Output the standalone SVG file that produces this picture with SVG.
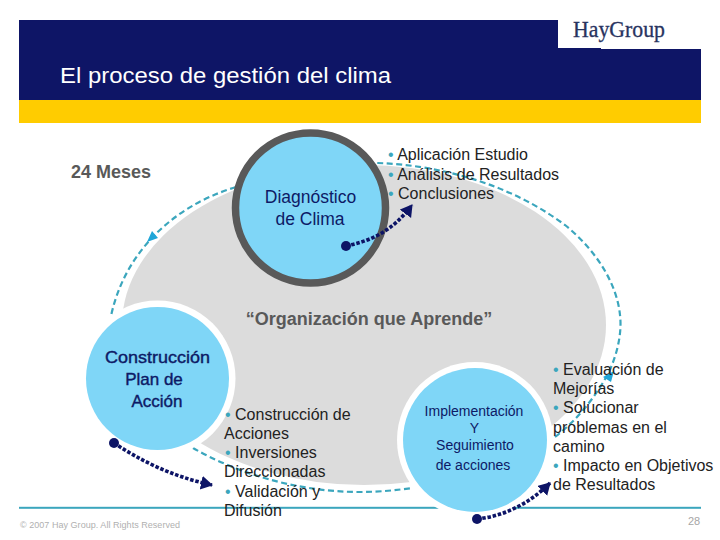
<svg xmlns="http://www.w3.org/2000/svg" width="720" height="540" viewBox="0 0 720 540">
<style>
text{font-family:"Liberation Sans",Arial,sans-serif}
.mid{text-anchor:middle}
.nv{fill:#0d1a66}
.bd{font-weight:bold;font-size:16.500px}
.b{font-size:16px;fill:#222}
.dot{fill:#3ba6bd}
.gh{font-weight:bold;fill:#595959;font-size:18px}
.teal{fill:none;stroke:#3ba6bd;stroke-width:2.2;stroke-dasharray:6 3.5}
.navy{fill:none;stroke:#0d1466;stroke-width:3.6;stroke-dasharray:3.5 1.8}
</style>
<defs>
<marker id="na" markerUnits="userSpaceOnUse" markerWidth="16" markerHeight="16" refX="11" refY="7" orient="auto"><path d="M0 0L12 7L0 14Z" fill="#0d1466"/></marker>
</defs>
<rect width="720" height="540" fill="#fff"/>
<g id="header">
<rect x="19" y="20" width="682" height="80" fill="#0e1566"/>
<rect x="19" y="100" width="682" height="23" fill="#ffcc00"/>
<path d="M558 20H701V49H601V48H558Z" fill="#fff"/>
<text x="573" y="37" font-size="23" textLength="92" lengthAdjust="spacingAndGlyphs" style="font-family:'Liberation Serif',serif" fill="#28335f" stroke="#28335f" stroke-width=".3">HayGroup</text>
<text x="60" y="83" font-size="22" fill="#fff" textLength="331" lengthAdjust="spacingAndGlyphs">El proceso de gestión del clima</text>
</g>
<g id="background">
<ellipse cx="364" cy="325" rx="242" ry="160" fill="#dcdcdc"/>
<rect x="19" y="506.800" width="682" height="2" fill="#3ba6bd"/>
</g>
<g id="connectors">
<path class="teal" d="M236 187C200 198 172 216 150 240C130 262 117 288 111 316"/>
<path class="teal" d="M555 437C577 420 595 398 609 372C618 352 622 332 620 315C617 285 598 252 565 225C510 184 440 165 377 163"/>
<path class="teal" d="M193 448C235 472 295 492 360 492C380 492 398 490 412 488"/>
<path d="M158 238L147 242L152 231Z" fill="#1fa6d8"/>
<path d="M603 377L614 371L611 382Z" fill="#1fa6d8"/>
</g>
<g id="n-diagnostico">
<circle cx="310.500" cy="208" r="75" fill="#7fd6f7" stroke="#595959" stroke-width="7.500"/>
<text class="mid nv" x="310.500" y="203" font-size="17.500">Diagnóstico</text>
<text class="mid nv" x="310" y="225" font-size="17.500">de Clima</text>
</g>
<g id="n-construccion">
<circle cx="157.500" cy="378.500" r="78" fill="#fff"/>
<circle cx="157.500" cy="378.500" r="71.500" fill="#7fd6f7"/>
<text class="mid nv" x="157.500" y="363" font-size="17" font-weight="400" stroke="#0d1a66" stroke-width=".4" textLength="105" lengthAdjust="spacingAndGlyphs">Construcción</text>
<text class="mid nv" x="154" y="384.500" font-size="17" stroke="#0d1a66" stroke-width=".4">Plan de</text>
<text class="mid nv" x="157" y="406.500" font-size="17" stroke="#0d1a66" stroke-width=".4">Acción</text>
</g>
<g id="n-implementacion">
<circle cx="475" cy="440" r="78" fill="#fff"/>
<circle cx="475" cy="440" r="72" fill="#7fd6f7"/>
<text class="mid nv" x="474" y="416" font-size="14">Implementación</text>
<text class="mid nv" x="474.500" y="433" font-size="14">Y</text>
<text class="mid nv" x="475" y="450" font-size="14">Seguimiento</text>
<text class="mid nv" x="473" y="469.500" font-size="14">de acciones</text>
</g>
<g id="navy-arrows">
<path class="navy" d="M346 246C370 241 392 232 412 205" marker-end="url(#na)"/>
<path class="navy" d="M114 443C140 460 170 476 212 485" marker-end="url(#na)"/>
<path class="navy" d="M477 519C505 516 530 503 550 483" marker-end="url(#na)"/>
<circle cx="346" cy="246" r="5" fill="#0d1466"/>
<circle cx="114" cy="443" r="5" fill="#0d1466"/>
<circle cx="477" cy="519" r="5" fill="#0d1466"/>
</g>
<g id="labels">
<text class="gh" x="71" y="178">24 Meses</text>
<text class="mid gh" x="369" y="325">“Organización que Aprende”</text>
<text class="b" x="388" y="160"><tspan class="dot">• </tspan>Aplicación Estudio</text>
<text class="b" x="388" y="180"><tspan class="dot">• </tspan>Análisis de Resultados</text>
<text class="b" x="388" y="199"><tspan class="dot">• </tspan>Conclusiones</text>
<text class="b" x="225" y="420"><tspan class="dot">• </tspan>Construcción de</text>
<text class="b" x="224" y="439">Acciones</text>
<text class="b" x="225" y="458"><tspan class="dot">• </tspan>Inversiones</text>
<text class="b" x="224" y="477">Direccionadas</text>
<text class="b" x="225" y="497"><tspan class="dot">• </tspan>Validación y</text>
<text class="b" x="224" y="516">Difusión</text>
<text class="b" x="553" y="375"><tspan class="dot">• </tspan>Evaluación de</text>
<text class="b" x="553" y="394">Mejorías</text>
<text class="b" x="553" y="413"><tspan class="dot">• </tspan>Solucionar</text>
<text class="b" x="553" y="433">problemas en el</text>
<text class="b" x="553" y="452">camino</text>
<text class="b" x="553" y="471"><tspan class="dot">• </tspan>Impacto en Objetivos</text>
<text class="b" x="553" y="490">de Resultados</text>
<text x="20" y="528" font-size="9" fill="#b0b0b0" textLength="160" lengthAdjust="spacing">© 2007 Hay Group. All Rights Reserved</text>
<text x="688" y="525" font-size="11" fill="#a6a6a6">28</text>
</g>
</svg>
